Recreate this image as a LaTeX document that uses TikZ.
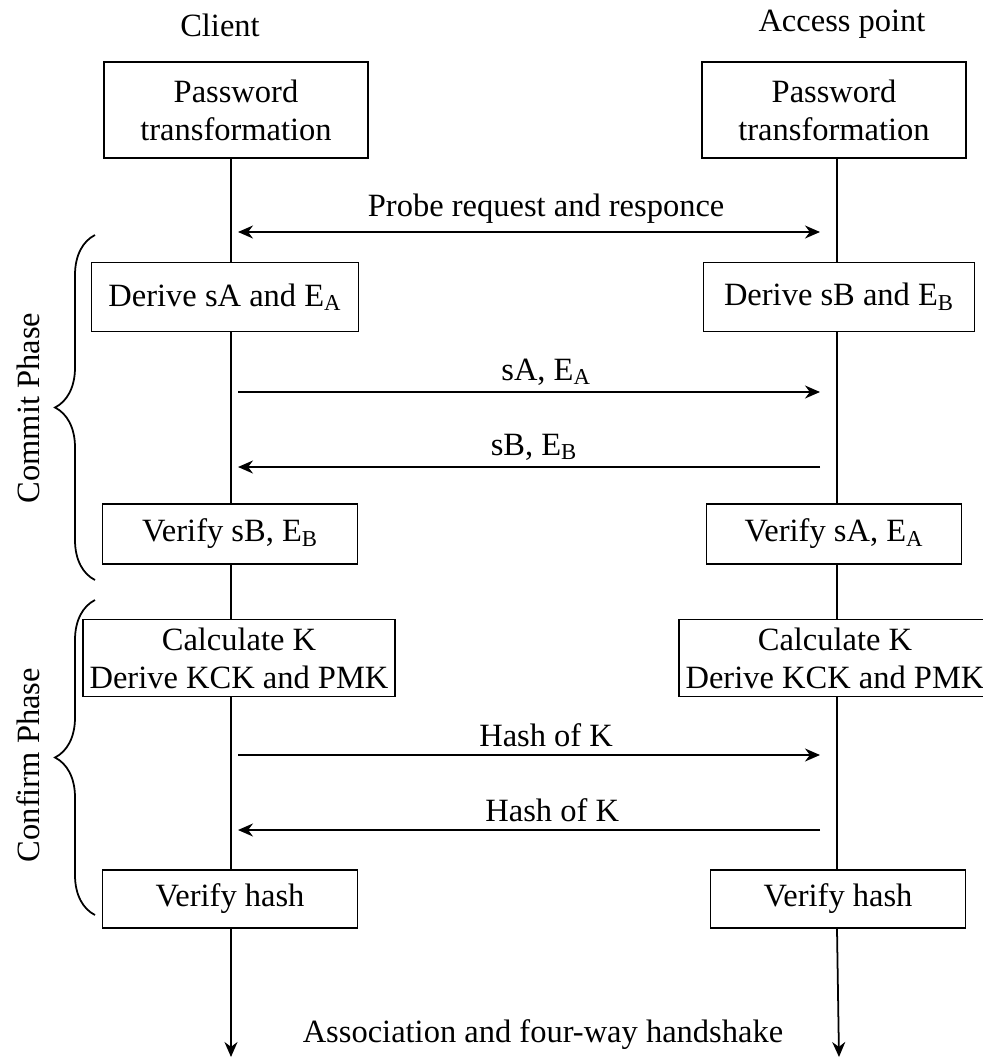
\documentclass[tikz,border=0pt]{standalone}
\usepackage{fontspec}
\setmainfont{Liberation Serif}
\usetikzlibrary{arrows.meta,positioning,decorations.pathreplacing}

\begin{document}
\begin{tikzpicture}[x=0.02cm, y=-0.02cm,
		font=\fontsize{18.5}{21.5}\selectfont,
		box/.style={draw, line width=1pt, fill=white, inner sep=0.1cm, align=center},
		life/.style={line width=1pt},
		msg/.style={line width=1pt, -{Stealth[length=0.3cm,width=0.26cm]}},
		msgboth/.style={line width=1pt, {Stealth[length=0.3cm,width=0.26cm]}-{Stealth[length=0.3cm,width=0.26cm]}},
		phase/.style={line width=1pt, decorate, decoration={brace, amplitude=0.8cm}}]
			\useasboundingbox (0,0) rectangle (983,1059);

			% Lifelines
			\coordinate (cA) at (231,0);
			\coordinate (cB) at (837,0);
			\coordinate (endA) at (231,1057);
			\coordinate (endB) at (839,1057);

			% Parties
			\node (client) at (220,25) {Client};
			\node (ap) at (842,24) {Access point};

			% Boxes, client side
			\node[box, minimum width=5.28cm, minimum height=1.92cm] (pwA) at (236,110) {Password\\transformation};
			\node[box, minimum width=5.34cm, minimum height=1.38cm] (derA) at (225,297) {Derive sA and E\textsubscript{A}};
			\node[box, minimum width=5.1cm, minimum height=1.2cm] (verA) at (230,534) {Verify sB, E\textsubscript{B}};
			\node[box, minimum width=6.24cm, minimum height=1.54cm] (calA) at (239,658) {Calculate K\\Derive KCK and PMK};
			\node[box, minimum width=5.1cm, minimum height=1.16cm] (hashA) at (230,899) {Verify hash};

			% Boxes, access point side
			\node[box, minimum width=5.28cm, minimum height=1.92cm] (pwB) at (834,110) {Password\\transformation};
			\node[box, minimum width=5.42cm, minimum height=1.38cm] (derB) at (839,297) {Derive sB and E\textsubscript{B}};
			\node[box, minimum width=5.1cm, minimum height=1.2cm] (verB) at (834,534) {Verify sA, E\textsubscript{A}};
			\node[box, minimum width=6.24cm, minimum height=1.54cm] (calB) at (835,658) {Calculate K\\Derive KCK and PMK};
			\node[box, minimum width=5.1cm, minimum height=1.16cm] (hashB) at (838,899) {Verify hash};

			\foreach \u/\v in {pwA/derA, derA/verA, verA/calA, calA/hashA}{
				\draw[life] (\u.south -| cA) -- (\v.north -| cA);
			}
			\foreach \u/\v in {pwB/derB, derB/verB, verB/calB, calB/hashB}{
				\draw[life] (\u.south -| cB) -- (\v.north -| cB);
			}
			\draw[msg] (hashA.south -| cA) -- (endA);
			\draw[msg] (hashB.south -| cB) -- (endB);
			\node (assoc) at (543,1035) {Association and four-way handshake};

			% Messages
			\coordinate (m0) at (0,232);
			\coordinate (m1) at (0,392);
			\coordinate (m2) at (0,467);
			\coordinate (m3) at (0,755);
			\coordinate (m4) at (0,830);
			\draw[msgboth, shorten <=0.14cm, shorten >=0.34cm]
				(m0 -| cA) -- node[pos=0.52, above=1pt] (lprobe) {Probe request and responce} (m0 -| cB);
			\draw[msg, shorten <=0.14cm, shorten >=0.34cm]
				(m1 -| cA) -- node[pos=0.52, above=0pt] (lsa) {sA, E\textsubscript{A}} (m1 -| cB);
			\draw[msg, shorten <=0.34cm, shorten >=0.14cm]
				(m2 -| cB) -- node[pos=0.5, above=0pt] (lsb) {sB, E\textsubscript{B}} (m2 -| cA);
			\draw[msg, shorten <=0.14cm, shorten >=0.34cm]
				(m3 -| cA) -- node[pos=0.52, above=1pt] (lhash1) {Hash of K} (m3 -| cB);
			\draw[msg, shorten <=0.34cm, shorten >=0.14cm]
				(m4 -| cB) -- node[pos=0.47, above=1pt] (lhash2) {Hash of K} (m4 -| cA);

			% Phases
			\draw[phase] (95,580) -- (95,235);
			\node[rotate=90] (lcommit) at (28,408) {Commit Phase};
			\draw[phase] (95,915) -- (95,600);
			\node[rotate=90] (lconfirm) at (28,765) {Confirm Phase};
		\end{tikzpicture}
\end{document}
